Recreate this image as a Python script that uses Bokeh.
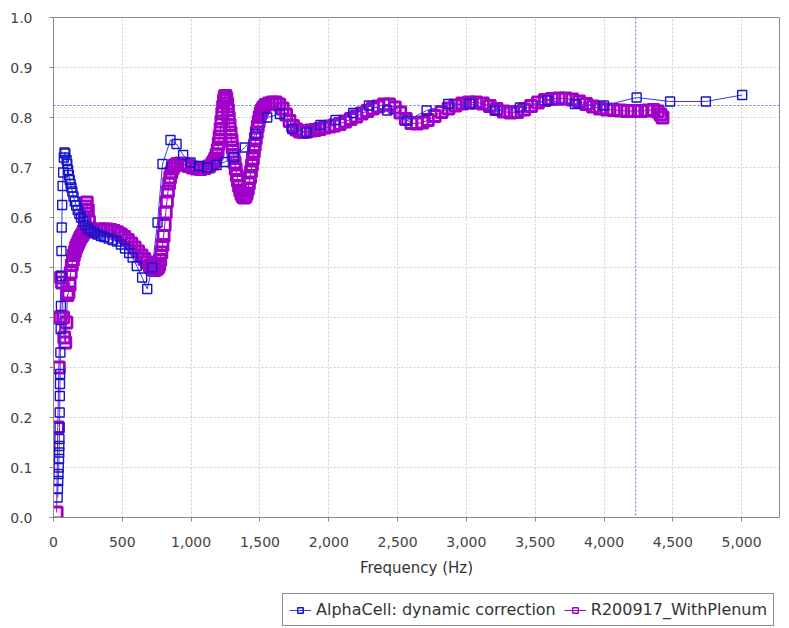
from bokeh.plotting import figure
from bokeh.layouts import column
from bokeh.models import (Range1d, NumeralTickFormatter, Span, Legend, LegendItem)
from bokeh.embed import file_html
from bokeh.resources import INLINE

series_names = ["AlphaCell: dynamic correction", "R200917_WithPlenum"]

alpha_freq = [30, 32, 34, 36, 38, 40, 41, 42, 43, 44, 45, 46, 47, 48, 50, 52, 54, 56, 58, 60,
              63, 66, 70, 75, 80, 86, 95, 100, 106, 112, 118, 124, 130, 137, 145, 155, 165, 176,
              188, 200, 215, 230, 250, 270, 295, 320, 345, 370, 400, 430, 460, 490, 520, 550,
              575, 605, 644, 681, 717, 756, 792, 850, 894, 942, 996, 1056, 1117, 1185, 1245,
              1310, 1390, 1468, 1553, 1645, 1735, 1839, 1940, 2049, 2178, 2292, 2425, 2570,
              2711, 2868, 3026, 3207, 3389, 3588, 3789, 3999, 4237, 4480, 4740, 5004]
alpha_val = [0.040, 0.057, 0.073, 0.087, 0.100, 0.117, 0.130, 0.143, 0.157, 0.180, 0.210, 0.243,
             0.267, 0.287, 0.330, 0.377, 0.423, 0.483, 0.533, 0.580, 0.625, 0.663, 0.690, 0.720,
             0.730, 0.728, 0.715, 0.707, 0.695, 0.685, 0.675, 0.667, 0.660, 0.652, 0.642, 0.632,
             0.624, 0.615, 0.607, 0.600, 0.592, 0.585, 0.578, 0.573, 0.569, 0.566, 0.563, 0.561,
             0.558, 0.555, 0.552, 0.546, 0.538, 0.529, 0.520, 0.503, 0.480, 0.457, 0.500, 0.590,
             0.707, 0.755, 0.747, 0.725, 0.710, 0.703, 0.700, 0.705, 0.711, 0.721, 0.740, 0.767,
             0.800, 0.807, 0.777, 0.770, 0.785, 0.795, 0.809, 0.824, 0.814, 0.794, 0.814, 0.827,
             0.827, 0.814, 0.820, 0.834, 0.827, 0.824, 0.840, 0.832, 0.832, 0.845]

plenum_freq = [23, 31, 39, 47, 55, 62, 70, 78, 86, 94, 102, 109, 117, 125, 133, 141, 148, 156,
               164, 172, 180, 188, 196, 204, 211, 219, 227, 235, 242, 250, 258, 266, 273,
               290, 315, 340, 365, 390, 415, 440, 465, 490, 515, 540, 565, 590, 615, 640, 660,
               680, 700, 715, 730, 745,
               760, 768, 776, 784, 792, 800, 808, 816, 824, 832, 840, 848, 856, 866, 880, 900, 925,
               950, 980, 1010, 1040, 1070, 1100, 1130, 1155,
               1165, 1175, 1185, 1193, 1200, 1207, 1214, 1220, 1226, 1232, 1238, 1244, 1250, 1256,
               1262, 1268, 1274, 1280, 1287, 1294, 1301, 1308, 1316, 1324, 1332, 1340, 1348, 1357,
               1366, 1375, 1385, 1395, 1404, 1412, 1420, 1428, 1435, 1442, 1449, 1456, 1463, 1470,
               1477, 1484, 1491, 1498, 1506, 1515, 1525,
               1540, 1565, 1590, 1615, 1640, 1665, 1690, 1715, 1740, 1765, 1790, 1815, 1840, 1870,
               1900, 1935, 1970, 2005, 2040, 2080, 2120, 2160, 2200, 2240, 2280, 2320, 2360, 2400,
               2440,
               2480, 2520, 2560, 2600, 2640, 2680, 2720, 2770, 2820, 2870, 2920, 2970, 3020, 3070,
               3120, 3170, 3220, 3270, 3320, 3370, 3420, 3470, 3520, 3570, 3620, 3670, 3720, 3770,
               3820, 3870, 3920, 3970, 4020, 4070, 4120, 4170, 4220, 4270, 4320, 4360, 4390, 4410,
               4425]
plenum_val = [0.010, 0.180, 0.300, 0.400, 0.480, 0.470, 0.400, 0.360, 0.350, 0.390, 0.445, 0.450,
              0.465, 0.490, 0.505, 0.515, 0.525, 0.532, 0.540, 0.545, 0.550, 0.555, 0.560, 0.563,
              0.566, 0.572, 0.600, 0.622, 0.630, 0.615, 0.592, 0.578, 0.572,
              0.573, 0.575, 0.576, 0.576, 0.576, 0.575, 0.573, 0.570, 0.566, 0.561, 0.555, 0.548,
              0.540, 0.532, 0.524, 0.517, 0.510, 0.503, 0.498, 0.495, 0.496,
              0.500, 0.505, 0.515, 0.530, 0.545, 0.563, 0.585, 0.610, 0.632, 0.652, 0.668, 0.680,
              0.690, 0.698, 0.704, 0.707, 0.708,
              0.706, 0.703, 0.700, 0.698, 0.697, 0.699, 0.702, 0.708,
              0.712, 0.718, 0.726, 0.735, 0.748, 0.762, 0.777, 0.792, 0.808, 0.822, 0.834, 0.842,
              0.843, 0.838, 0.828, 0.815, 0.800, 0.785, 0.770, 0.755, 0.740, 0.725, 0.710, 0.697,
              0.684, 0.673, 0.663, 0.654, 0.647, 0.642, 0.640, 0.642, 0.648, 0.657, 0.668, 0.680,
              0.692, 0.705, 0.718, 0.732, 0.745, 0.758, 0.770, 0.782, 0.792, 0.801, 0.809, 0.815,
              0.820,
              0.825, 0.828, 0.830, 0.830, 0.826, 0.818, 0.806, 0.793, 0.783, 0.776, 0.772, 0.771,
              0.772, 0.774, 0.775, 0.777, 0.780, 0.782, 0.784, 0.787, 0.792, 0.797, 0.802, 0.808,
              0.813, 0.818, 0.822, 0.826, 0.826,
              0.820, 0.810, 0.797, 0.789, 0.788, 0.790, 0.795, 0.803, 0.811, 0.818, 0.824, 0.828,
              0.830, 0.830, 0.828, 0.823, 0.817, 0.812, 0.810, 0.811, 0.816, 0.823, 0.830, 0.835,
              0.837, 0.838, 0.838, 0.836, 0.832, 0.827, 0.822, 0.818, 0.816, 0.815, 0.814, 0.813,
              0.813, 0.813, 0.814, 0.815, 0.812, 0.806, 0.800]

x_ticks = [0, 500, 1000, 1500, 2000, 2500, 3000, 3500, 4000, 4500, 5000]
y_ticks = [0.0, 0.1, 0.2, 0.3, 0.4, 0.5, 0.6, 0.7, 0.8, 0.9, 1.0]
x_label = "Frequency (Hz)"
crosshair_freq = 4230
crosshair_val = 0.824

BLUE = "#1414c8"
BLUE_LINE = "#3838f0"
MAGENTA = "#a000c8"
FONT = "DejaVu Sans"

p = figure(frame_width=726, frame_height=500, output_backend="svg", toolbar_location=None,
           x_range=Range1d(0, 5275), y_range=Range1d(0, 1),
           min_border_left=53, min_border_right=6, min_border_top=17, min_border_bottom=70,
           background_fill_color="white", border_fill_color="white")

p.outline_line_color = "#8a8a8a"
p.outline_line_width = 1

for ax in (p.xaxis[0], p.yaxis[0]):
    ax.axis_line_color = "#8a8a8a"
    ax.major_tick_line_color = "#8a8a8a"
    ax.major_tick_out = 4
    ax.major_tick_in = 0
    ax.minor_tick_line_color = None
    ax.major_label_text_font = FONT
    ax.major_label_text_font_size = "14px"
    ax.major_label_text_color = "#444444"

p.xaxis.major_label_standoff = 15
p.yaxis.major_label_standoff = 17
p.xaxis.ticker = x_ticks
p.yaxis.ticker = y_ticks
p.xaxis.formatter = NumeralTickFormatter(format="0,0")
p.yaxis.formatter = NumeralTickFormatter(format="0.0")
p.xaxis.axis_label = x_label
p.xaxis.axis_label_text_font = FONT
p.xaxis.axis_label_text_font_size = "15px"
p.xaxis.axis_label_text_font_style = "normal"
p.xaxis.axis_label_text_color = "#333333"
p.xaxis.axis_label_standoff = 9

for g in (p.xgrid[0], p.ygrid[0]):
    g.grid_line_color = "#cfcfcf"
    g.grid_line_dash = "2 2"
    g.grid_line_width = 1

vspan = Span(location=crosshair_freq, dimension="height", line_color="#5a6cff",
             line_dash="2 2", line_width=1, level="underlay")
hspan = Span(location=crosshair_val, dimension="width", line_color="#5a6cff",
             line_dash="2 2", line_width=1, level="underlay")
p.add_layout(vspan)
p.add_layout(hspan)

p.line(plenum_freq, plenum_val, line_color=MAGENTA, line_width=1)
p.scatter(plenum_freq, plenum_val, marker="square", size=11, fill_color=None,
          line_color=MAGENTA, line_width=2.8)

p.line(alpha_freq, alpha_val, line_color=BLUE_LINE, line_width=1)
p.scatter(alpha_freq, alpha_val, marker="square", size=9, fill_color=None,
          line_color=BLUE, line_width=1.4)

# Legend strip below the chart: same series, drawn outside this strip's visible range,
# so that only the legend (with its glyphs) shows.
lf = figure(width=785, height=40, output_backend="svg", toolbar_location=None,
            x_range=Range1d(-20, -10), y_range=Range1d(-20, -10),
            x_axis_type=None, y_axis_type=None, min_border=0,
            background_fill_color="white", border_fill_color="white")
lf.outline_line_color = None
lf.xgrid.visible = False
lf.ygrid.visible = False
kb_line = lf.line(alpha_freq, alpha_val, line_color=BLUE_LINE, line_width=1)
kb_pts = lf.scatter(alpha_freq, alpha_val, marker="square", size=8, fill_color=None,
                    line_color=BLUE, line_width=1.4)
km_line = lf.line(plenum_freq, plenum_val, line_color=MAGENTA, line_width=1)
km_pts = lf.scatter(plenum_freq, plenum_val, marker="square", size=8, fill_color=None,
                    line_color=MAGENTA, line_width=1.4)

legend = Legend(items=[LegendItem(label=series_names[0], renderers=[kb_line, kb_pts]),
                       LegendItem(label=series_names[1], renderers=[km_line, km_pts])],
                orientation="horizontal", location=(229, 1),
                label_text_font=FONT, label_text_font_size="16px",
                label_text_color="#333333",
                border_line_color="#222222", border_line_width=1,
                padding=6, spacing=8, margin=0, glyph_width=22, glyph_height=14,
                label_standoff=5, background_fill_color="white", background_fill_alpha=1)
lf.add_layout(legend)

layout = column(p, lf, spacing=0)
open("out.html", "w").write(file_html(layout, INLINE))
